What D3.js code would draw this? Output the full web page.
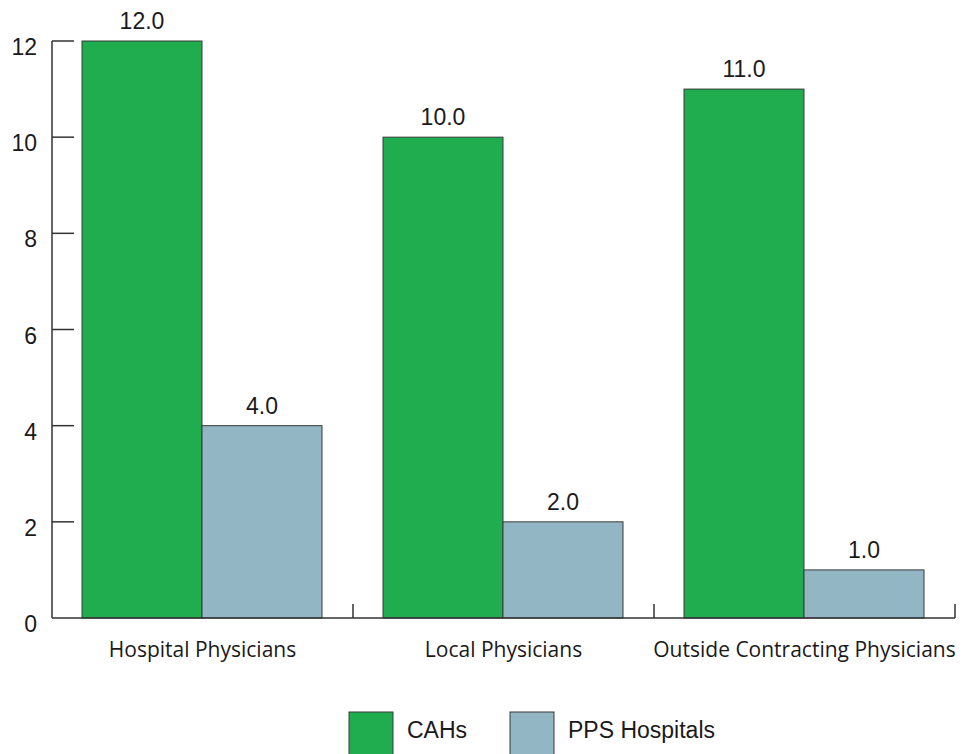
<!DOCTYPE html>
<html>
<head>
<meta charset="utf-8">
<script src="https://cdn.jsdelivr.net/npm/d3@7"></script>
<style>
  body { margin: 0; background: #fff; }
  svg { display: block; }
  .num { font-family: "Liberation Sans", Arial, sans-serif; font-size: 23px; fill: #1a1a1a; }
  .cat { font-family: "Open Sans", sans-serif; font-size: 21px; fill: #1a1a1a; }
</style>
</head>
<body>
<div id="chart"></div>
<script>
const width = 963;
const height = 754;
const margin = {top: 41, right: 8, bottom: 136, left: 52};

const categories = ["Hospital Physicians", "Local Physicians", "Outside Contracting Physicians"];
const seriesNames = ["CAHs", "PPS Hospitals"];
const cahValues = [12, 10, 11];
const ppsValues = [4, 2, 1];
const yTicks = [0, 2, 4, 6, 8, 10, 12];
const colors = ["#1fad50", "#92b6c4"];

const data = categories.map((c, i) => ({cat: c, values: [cahValues[i], ppsValues[i]]}));

const x = d3.scaleBand()
  .domain(categories)
  .range([margin.left, margin.left + 903])
  .paddingInner(0)
  .paddingOuter(0);

const xInner = d3.scaleBand()
  .domain(seriesNames)
  .range([30, x.bandwidth() - 31]);

const y = d3.scaleLinear()
  .domain([0, 12])
  .range([height - margin.bottom - 0, margin.top]);

const svg = d3.select("#chart")
  .append("svg")
  .attr("width", width)
  .attr("height", height)
  .attr("viewBox", [0, 0, width, height]);

// bars
const groups = svg.append("g")
  .selectAll("g")
  .data(data)
  .join("g")
  .attr("transform", d => `translate(${x(d.cat)},0)`);

groups.selectAll("rect")
  .data(d => d.values.map((v, i) => ({key: seriesNames[i], v, i})))
  .join("rect")
  .attr("x", d => xInner(d.key))
  .attr("width", xInner.bandwidth())
  .attr("y", d => y(d.v))
  .attr("height", d => y(0) - y(d.v))
  .attr("fill", d => colors[d.i])
  .attr("stroke", "#3a3a3a")
  .attr("stroke-width", 1);

groups.selectAll("text.val")
  .data(d => d.values.map((v, i) => ({key: seriesNames[i], v})))
  .join("text")
  .attr("class", "num val")
  .attr("x", d => xInner(d.key) + xInner.bandwidth() / 2)
  .attr("y", d => y(d.v) - 12)
  .attr("text-anchor", "middle")
  .text(d => d3.format(".1f")(d.v));

// y axis (inward ticks)
const yAxis = svg.append("g")
  .attr("transform", `translate(${margin.left},0)`);
yAxis.append("line")
  .attr("x1", 0).attr("x2", 0)
  .attr("y1", y(12)).attr("y2", y(0))
  .attr("stroke", "#333").attr("stroke-width", 1.5);
yAxis.selectAll("line.tick")
  .data(yTicks.filter(t => t > 0))
  .join("line")
  .attr("class", "tick")
  .attr("x1", 0).attr("x2", 22)
  .attr("y1", d => y(d)).attr("y2", d => y(d))
  .attr("stroke", "#333").attr("stroke-width", 1.5);
yAxis.selectAll("text")
  .data(yTicks)
  .join("text")
  .attr("class", "num")
  .attr("x", -15)
  .attr("y", d => y(d) + 14)
  .attr("text-anchor", "end")
  .text(d => d);

// x axis
const xAxis = svg.append("g");
xAxis.append("line")
  .attr("x1", margin.left).attr("x2", margin.left + 903)
  .attr("y1", y(0)).attr("y2", y(0))
  .attr("stroke", "#333").attr("stroke-width", 1.5);
xAxis.selectAll("line.tick")
  .data(categories)
  .join("line")
  .attr("class", "tick")
  .attr("x1", d => x(d) + x.bandwidth()).attr("x2", d => x(d) + x.bandwidth())
  .attr("y1", y(0)).attr("y2", y(0) - 14)
  .attr("stroke", "#333").attr("stroke-width", 1.5);
xAxis.selectAll("text")
  .data(categories)
  .join("text")
  .attr("class", "cat")
  .attr("x", d => x(d) + x.bandwidth() / 2)
  .attr("y", y(0) + 39)
  .attr("text-anchor", "middle")
  .text(d => d);

// legend
const legendX = [349, 510];
const legend = svg.append("g")
  .selectAll("g")
  .data(seriesNames)
  .join("g")
  .attr("transform", (d, i) => `translate(${legendX[i]},712)`);
legend.append("rect")
  .attr("width", 44).attr("height", 44)
  .attr("fill", (d, i) => colors[i])
  .attr("stroke", "#3a3a3a").attr("stroke-width", 1);
legend.append("text")
  .attr("class", "num")
  .attr("x", 58)
  .attr("y", 26)
  .text(d => d);
</script>
</body>
</html>
